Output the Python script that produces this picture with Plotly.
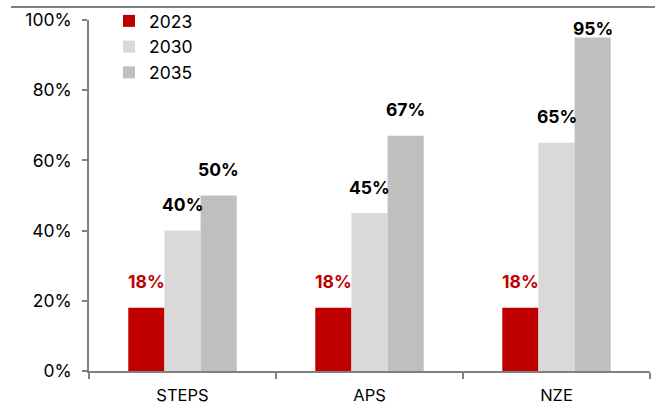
import plotly.graph_objects as go

scenarios = ["STEPS", "APS", "NZE"]
years = ["2023", "2030", "2035"]
shares = {
    "2023": [0.18, 0.18, 0.18],
    "2030": [0.40, 0.45, 0.65],
    "2035": [0.50, 0.67, 0.95],
}
colors = {"2023": "#C00000", "2030": "#D9D9D9", "2035": "#BFBFBF"}
label_colors = {"2023": "#C00000", "2030": "#000000", "2035": "#000000"}

FONT = "Inter"
W, H = 661, 408
# plot area in pixels (left, right, top, bottom); margins are zero so paper = figure
PX_L, PX_R, PX_T, PX_B = 89, 650, 20, 371
BARGAP = 0.42
plot_w = PX_R - PX_L
plot_h = PX_B - PX_T


def paper_x(px):
    return px / W


def paper_y(px):
    return (H - px) / H


fig = go.Figure()
for yr in years:
    fig.add_trace(go.Bar(
        x=scenarios, y=shares[yr], name=yr,
        marker=dict(color=colors[yr], line=dict(width=0)),
    ))

# value labels above each bar, kept inside the plot near the top
bar_px = plot_w / len(scenarios) * (1 - BARGAP) / len(years)
label_gap = 26 / plot_h
label_max = 1 - 8 / plot_h
for i, yr in enumerate(years):
    offset = (i - (len(years) - 1) / 2) * bar_px
    for sc, v in zip(scenarios, shares[yr]):
        fig.add_annotation(
            x=sc, y=min(v + label_gap, label_max),
            text=f"<b>{round(v * 100)}%</b>",
            showarrow=False, xshift=offset, yanchor="middle",
            font=dict(family=FONT, size=17.5, color=label_colors[yr]),
        )

# thin rule along the top of the figure
fig.add_shape(type="line", xref="paper", yref="paper", layer="above",
              x0=paper_x(11), x1=paper_x(655),
              y0=paper_y(7), y1=paper_y(7),
              line=dict(color="#808080", width=2))

fig.update_layout(
    width=W, height=H,
    margin=dict(l=0, r=0, t=0, b=0),
    barmode="group", bargap=BARGAP, bargroupgap=0,
    plot_bgcolor="rgba(0,0,0,0)", paper_bgcolor="white",
    font=dict(family=FONT, size=17, color="#000000"),
    showlegend=True,
    legend=dict(x=paper_x(109), y=paper_y(3), xanchor="left", yanchor="top",
                bgcolor="rgba(0,0,0,0)", font=dict(size=17.5),
                tracegroupgap=0, itemwidth=30),
    xaxis=dict(domain=[paper_x(PX_L), paper_x(PX_R)],
               showline=True, linecolor="#808080", linewidth=1.5,
               ticks="outside", tickson="boundaries", ticklen=6,
               tickcolor="#808080", tickwidth=1.5, ticklabelstandoff=8,
               tickfont=dict(size=16.5), showgrid=False, automargin=False),
    yaxis=dict(range=[0, 1], domain=[paper_y(PX_B), paper_y(PX_T)],
               tickvals=[0, 0.2, 0.4, 0.6, 0.8, 1.0],
               tickformat=".0%", showline=True, linecolor="#808080",
               linewidth=1.5, ticks="outside", ticklen=5,
               tickcolor="#808080", tickwidth=1.5, showgrid=False,
               ticklabelstandoff=7, automargin=False,
               zeroline=False, tickfont=dict(size=17.5)),
)

fig.write_html("out.html", config={"displayModeBar": False})
